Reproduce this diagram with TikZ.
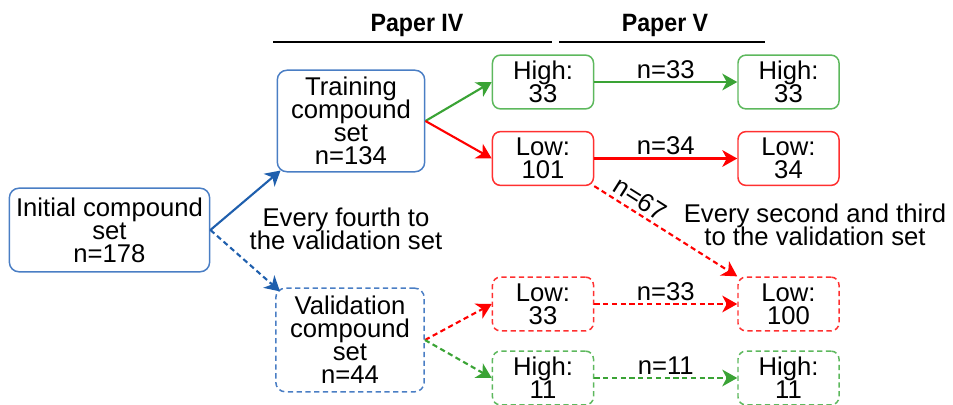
\documentclass[tikz,border=0pt]{standalone}
\usepackage{fontspec}
\setmainfont{Liberation Sans}
\usetikzlibrary{arrows.meta,calc}
\definecolor{bbox}{HTML}{4A7EC4}
\definecolor{barrow}{HTML}{1F5FAD}
\definecolor{gbox}{HTML}{5DB85D}
\definecolor{garrow}{HTML}{3AA335}
\definecolor{rbox}{HTML}{FF3030}
\definecolor{rarrow}{HTML}{FF0000}
\AtBeginDocument{\lineskiplimit=-20pt\relax}
\begin{document}
\begin{tikzpicture}[x=0.02cm,y=-0.02cm,
  txt/.style={font=\fontsize{14.6}{13.1}\selectfont, align=center, inner sep=0pt, text=black},
  bigbox/.style={txt, draw, line width=0.85pt, rounded corners=5.5pt},
  smallbox/.style={txt, draw, line width=0.85pt, rounded corners=4.5pt, minimum width=57.5pt, minimum height=30.6pt},
  dsh/.style={dash pattern=on 3pt off 2pt},
  arr/.style={line width=1.2pt, -{Stealth[length=8.5pt,width=9.5pt,inset=2.5pt]}},
  lbl/.style={txt, above, inner sep=1.5pt},
  hdr/.style={font=\bfseries\fontsize{13.2}{15}\selectfont, inner sep=0pt}]
\useasboundingbox (0,0) rectangle (953,405);

% header
\node[hdr] (p4) at (417,25) {\scalebox{1}[1.08]{Paper IV}};
\node[hdr] (p5) at (665,25) {\scalebox{1}[1.08]{Paper V}};
\draw[line width=1.2pt] (273,42) -- (552,42);
\draw[line width=1.2pt] (559,42) -- (765,42);

% big boxes
\node[bigbox, draw=bbox, minimum width=114pt, minimum height=47.6pt] (init) at (109.5,230) {Initial compound\\set\\n=178};
\node[bigbox, draw=bbox, minimum width=83.9pt, minimum height=57.8pt] (train) at (351,121) {Training\\compound\\set\\n=134};
\node[bigbox, draw=bbox, dsh, minimum width=84.5pt, minimum height=59pt] (val) at (350,340) {Validation\\compound\\set\\n=44};

% small boxes
\node[smallbox, draw=gbox] (h1) at (543,82) {High:\\33};
\node[smallbox, draw=rbox] (l1) at (543,158.5) {Low:\\101};
\node[smallbox, draw=gbox] (h2) at (788.5,82) {High:\\33};
\node[smallbox, draw=rbox] (l2) at (788.5,158.5) {Low:\\34};
\node[smallbox, draw=rbox, dsh] (l3) at (543,304) {Low:\\33};
\node[smallbox, draw=rbox, dsh] (l4) at (788.5,304) {Low:\\100};
\node[smallbox, draw=gbox, dsh] (h3) at (543,378) {High:\\11};
\node[smallbox, draw=gbox, dsh] (h4) at (788.5,378) {High:\\11};

% free texts
\node[txt] (t1) at (346,229) {Every fourth to\\the validation set};
\node[txt] (t2) at (815,225) {Every second and third\\to the validation set};

% connectors
\draw[arr, barrow] (init.east) -- ([shift={(4,-2)}]train.south west);
\draw[arr, barrow, dsh] (init.east) -- ([shift={(5,4)}]val.north west);
\draw[arr, garrow] (train.east) -- (h1.west);
\draw[arr, rarrow] (train.east) -- (l1.west);
\draw[arr, garrow] (h1.east) -- node[lbl]{n=33} (h2.west);
\draw[arr, rarrow] (l1.east) -- node[lbl]{n=34} (l2.west);
\draw[arr, rarrow, dsh] (l1.south east) -- node[txt, sloped, above, pos=0.27, inner sep=2pt]{n=67} (l4.north west);
\draw[arr, rarrow, dsh] (val.east) -- (l3.west);
\draw[arr, garrow, dsh] (val.east) -- (h3.west);
\draw[arr, rarrow, dsh] (l3.east) -- node[lbl]{n=33} (l4.west);
\draw[arr, garrow, dsh] (h3.east) -- node[lbl]{n=11} (h4.west);
\end{tikzpicture}
\end{document}
